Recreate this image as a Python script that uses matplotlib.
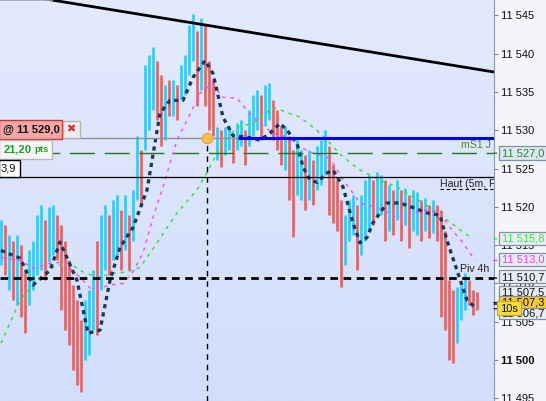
import matplotlib.pyplot as plt
import numpy as np
from matplotlib.patches import Rectangle

plt.rcParams['lines.scale_dashes'] = False
plt.rcParams['font.family'] = ['Liberation Sans', 'DejaVu Sans']

# price bars: high / low per bar, u = up (cyan), d = down (red)
highs = [11518.3, 11517.6, 11516.3, 11515.6, 11516.3, 11515.0, 11511.7, 11514.3, 11515.6, 11518.9,
         11520.2, 11518.3, 11520.0, 11520.2, 11518.9, 11517.6, 11515.6, 11513.0, 11509.8, 11507.8,
         11505.2, 11507.8, 11509.1, 11511.7, 11515.6, 11518.9, 11520.2, 11518.9, 11520.9, 11521.5,
         11519.6, 11521.5, 11518.9, 11522.2, 11529.3, 11527.4, 11538.5, 11539.8, 11540.8, 11539.1,
         11537.2, 11535.9, 11536.5, 11536.5, 11535.9, 11538.5, 11539.8, 11543.7, 11545.2, 11543.0,
         11544.7, 11543.7, 11539.1, 11536.5, 11530.4, 11530.0, 11530.4, 11530.6, 11529.3, 11530.9,
         11531.3, 11530.0, 11532.6, 11534.6, 11535.2, 11534.6, 11535.9, 11536.1, 11533.9, 11532.6,
         11530.6, 11530.6, 11529.3, 11527.4, 11528.7, 11527.4, 11526.7, 11527.4, 11526.1, 11528.0,
         11528.7, 11530.0, 11528.0, 11525.4, 11523.5, 11520.9, 11518.9, 11520.9, 11521.5, 11520.2,
         11521.5, 11523.5, 11524.1, 11523.5, 11524.6, 11524.1, 11523.5, 11522.8, 11522.2, 11523.5,
         11522.2, 11522.4, 11521.5, 11522.2, 11521.9, 11520.9, 11521.1, 11520.2, 11520.9, 11520.2,
         11519.6, 11516.9, 11510.4, 11509.1, 11509.5, 11509.8, 11511.3, 11510.4, 11509.1, 11508.9]
lows = [11512.4, 11511.1, 11509.1, 11507.8, 11507.2, 11505.6, 11503.5, 11507.2, 11509.1, 11511.1,
        11511.7, 11510.4, 11512.8, 11513.7, 11513.0, 11506.5, 11503.9, 11502.0, 11498.7, 11496.7,
        11495.8, 11500.0, 11500.7, 11503.9, 11503.3, 11509.1, 11511.7, 11511.1, 11513.0, 11513.7,
        11511.7, 11514.3, 11511.7, 11515.6, 11520.9, 11520.2, 11527.4, 11530.0, 11532.6, 11531.3,
        11528.0, 11528.7, 11531.9, 11531.9, 11531.3, 11533.9, 11534.6, 11537.2, 11539.1, 11533.2,
        11535.2, 11533.2, 11530.0, 11529.3, 11526.1, 11525.2, 11526.7, 11527.4, 11525.7, 11527.4,
        11528.0, 11525.4, 11528.0, 11529.3, 11530.0, 11528.7, 11530.6, 11531.3, 11528.7, 11527.4,
        11525.4, 11524.8, 11520.9, 11516.0, 11521.5, 11520.9, 11519.6, 11520.9, 11520.2, 11522.2,
        11522.8, 11524.1, 11518.9, 11517.9, 11516.9, 11509.5, 11512.4, 11515.6, 11516.3, 11511.7,
        11513.7, 11515.6, 11516.9, 11517.6, 11518.9, 11518.9, 11515.6, 11516.9, 11516.3, 11518.3,
        11515.6, 11517.6, 11514.6, 11516.9, 11516.3, 11515.6, 11516.9, 11515.9, 11516.6, 11515.6,
        11505.6, 11503.9, 11500.0, 11499.6, 11502.2, 11505.2, 11506.5, 11507.2, 11505.9, 11506.5]
dirs = ("udududduuu" "uduudddddd" "duuuduuduu" "duduuduuud" "dududuuuud"
        "uddduduudu" "uduuuduudd" "dudduududu" "uudddduuud" "uuuduududu"
        "duduududud" "dddduuuddd")

# moving averages (bar index, price)
ma_fast_x = [0, 4.75, 8, 12.25, 14.75, 19, 21.75, 24.75, 27.25, 29.75, 33, 36.5, 39.75, 42.25,
             45.5, 48, 51, 53, 55.5, 58, 61.5, 64.75, 67.25, 69.75, 71.5, 74, 75.5, 77.25, 79,
             81.5, 83, 85.5, 88, 89.75, 91.5, 93, 96.5, 99.75, 103, 106.5, 109.75, 111.5, 114,
             116.5, 118.5]
ma_fast_y = [11514.3, 11513.3, 11509.8, 11511.7, 11515.4, 11510.4, 11503.5, 11503.9, 11510.4,
             11514.7, 11517.3, 11522.2, 11532.2, 11533.9, 11533.9, 11536.9, 11539.1, 11537.4,
             11531.7, 11529.3, 11529.1, 11528.7, 11529.6, 11530.9, 11530.0, 11528.3, 11525.2,
             11523.5, 11523.2, 11524.4, 11524.8, 11522.6, 11517.9, 11515.3, 11516.0, 11517.9,
             11520.5, 11520.5, 11519.9, 11519.2, 11518.9, 11515.6, 11511.7, 11507.8, 11506.9]
ma_mid_x = [0, 4.75, 8, 12.25, 15.5, 19.75, 22.25, 24.75, 27.25, 30.5, 33, 35.5, 38, 40.5, 44,
            46.5, 49.75, 52.75, 55.5, 59, 61.5, 64.75, 68, 71.5, 74.75, 78, 81.5, 83, 85.5, 88,
            89.75, 92.25, 95.5, 99, 103, 106.5, 109.75, 112.25, 115.5, 118.5]
ma_mid_y = [11513.4, 11513.0, 11512.0, 11512.6, 11512.8, 11510.8, 11509.4, 11509.4, 11509.8,
            11510.0, 11511.5, 11514.0, 11518.6, 11522.6, 11528.7, 11531.3, 11534.8, 11536.1,
            11534.3, 11534.2, 11532.6, 11530.9, 11529.6, 11529.1, 11527.8, 11527.0, 11526.5,
            11525.7, 11523.5, 11521.8, 11520.5, 11520.2, 11519.6, 11518.6, 11519.2, 11519.6,
            11519.2, 11517.3, 11515.3, 11513.0]
ma_slow_x = [0, 4.75, 9, 13, 16.5, 20.5, 24, 28, 31.5, 34.75, 39, 44, 49, 52.25, 54.75, 59,
             63, 68, 74.75, 79, 81.5, 85.5, 89.75, 94.75, 99, 103, 107.25, 111.5, 114.75, 117.75]
ma_slow_y = [11502.2, 11507.8, 11510.4, 11512.1, 11512.8, 11511.5, 11510.8, 11511.3, 11511.5,
             11512.1, 11515.3, 11519.2, 11522.2, 11525.2, 11527.8, 11530.4, 11530.9, 11533.0,
             11531.7, 11530.0, 11528.7, 11526.5, 11524.8, 11523.5, 11522.6, 11521.3, 11519.9,
             11518.3, 11517.0, 11515.9]

# horizontal levels
order_price = 11529.0
ms1_j = 11527.0
haut_5m = 11523.9
piv_4h = 11510.7
order_bar = 51.5
trend_x = [-0.25, 123.25]
trend_y = [11548.1, 11537.6]

# price scale
y_ticks = [11495, 11500, 11505, 11510, 11515, 11520, 11525, 11530, 11535, 11540, 11545]
tick_labels = ['11 495', '11 500', '11 505', '11 510', '11 515', '11 520', '11 525',
               '11 530', '11 535', '11 540', '11 545']

W, H = 546, 401
fig = plt.figure(figsize=(W / 100, H / 100), dpi=100, facecolor='#f3f5fa')
ax = fig.add_axes([0, 0, 494 / W, 1])
x_lo, x_hi = -0.25, 123.25
y_lo, y_hi = 11494.65, 11547.0
ax.set_xlim(x_lo, x_hi)
ax.set_ylim(y_lo, y_hi)

# background gradient
grad = np.linspace(0, 1, 256).reshape(-1, 1)
top = np.array([227, 234, 252]) / 255
bot = np.array([210, 222, 252]) / 255
img = top + (bot - top) * grad[:, :, None]
ax.imshow(img, extent=[x_lo, x_hi, y_lo, y_hi], aspect='auto', origin='upper', zorder=0)

# bars
idx = np.arange(len(highs))
cols = ['#33c8f8' if d == 'u' else '#e06464' for d in dirs]
ax.vlines(idx, lows, highs, colors=cols, linewidth=1.9, zorder=2)

# moving averages
ax.plot(ma_slow_x, ma_slow_y, color='#33e633', lw=1.1, dashes=(2.5, 3.5), zorder=3)
ax.plot(ma_mid_x, ma_mid_y, color='#ff4dff', lw=1.1, dashes=(2.5, 3.5), zorder=3)
ax.plot(ma_fast_x, ma_fast_y, color='#173a5e', lw=2.4, dashes=(3, 3), zorder=4)

# levels
ax.axhline(haut_5m, color='black', lw=0.9, zorder=5)
ax.axhline(piv_4h, color='black', lw=2.0, dashes=(5.5, 4), zorder=5)
ax.axhline(ms1_j, color='#1f7a1f', lw=1.0, dashes=(18, 7), zorder=5)
ax.hlines(order_price, x_lo, 59.25, color='#909090', lw=1.0, zorder=5)
ax.hlines(order_price, 59.25, x_hi, color='#0000f0', lw=2.2, zorder=5)
ax.vlines(order_bar, y_lo, order_price, color='black', lw=1.0, linestyles=(0, (4, 3.5)), zorder=5)
ax.plot(trend_x, trend_y, color='black', lw=2.0, zorder=6, solid_capstyle='butt')
ax.hlines(y_hi - 0.05, x_lo, 13, color='#9aa4b0', lw=1.2, zorder=6)
ax.plot([order_bar], [order_price], 'o', ms=7.5, mfc='#f8c050', mec='#e8a848', zorder=7)

# in-chart labels
ax.text(115, ms1_j + 0.4, 'mS1 J', color='#4a8a12', fontsize=7.6, va='bottom', zorder=8)
ax.text(109.8, haut_5m - 0.3, 'Haut (5m, P', color='#202020', fontsize=7.6, va='top', zorder=8,
        clip_on=True)
ax.hlines(haut_5m - 1.6, 109.8, 123, color='black', lw=0.8, linestyles=(0, (2.5, 2)), zorder=8)
ax.text(114.8, piv_4h + 0.5, 'Piv 4h', color='#202020', fontsize=7.6, va='bottom', zorder=8)


def box(x0, y0, x1, y1, fc, ec, z=20, lw=1.0):
    fig.patches.append(Rectangle((x0 / W, 1 - y1 / H), (x1 - x0) / W, (y1 - y0) / H,
                                 transform=fig.transFigure, fc=fc, ec=ec, lw=lw, zorder=z))


def label(x, y, s, z=21, **kw):
    fig.text(x / W, 1 - y / H, s, va='center', ha='left', zorder=z, **kw)


# order tag on the left
box(-1, 120, 62, 139, '#f5a6a6', '#d03434')
label(3, 129.5, '@ 11 529,0', fontsize=8, fontweight='bold', color='#111111')
box(63, 121, 80, 137.5, '#ececec', '#b4b4b4')
label(66.5, 129.5, '\u2716', fontsize=8, color='#d83030', family='DejaVu Sans')
box(-1, 140, 52, 159, '#f6f6f6', '#b8b8b8')
label(4, 149.5, '21,20', fontsize=8, fontweight='bold', color='#22a022')
label(34, 150, 'pts', fontsize=6.8, fontweight='bold', color='#22a022')
box(-1, 160, 20, 177, 'white', 'black')
label(1, 168.5, '3,9', fontsize=8, color='#111111')

# price scale
ax.yaxis.tick_right()
ax.set_yticks(y_ticks)
ax.set_yticklabels(tick_labels)
ax.tick_params(axis='y', length=3, width=0.8, color='#7888a0', pad=2, labelsize=8,
               labelcolor='#101010')
for lab in ax.get_yticklabels():
    if lab.get_text() == '11 500':
        lab.set_fontweight('bold')
ax.set_xticks([])
for s in ['top', 'left', 'bottom']:
    ax.spines[s].set_visible(False)
ax.spines['right'].set_color('#8898b0')

# value tags on the price scale (connector level, text, text colour, fill, connector colour, box top/bottom px)
tags = [(11527.0, '11 527,0', '#208a20', '#dce8ee', '#1f7a1f', 146, 160),
        (11515.8, '11 515,8', '#33ee33', '#e8edf5', '#33ee33', 232, 245),
        (11513.0, '11 513,0', '#ff33ff', '#e8edf5', '#ff33ff', 253, 266),
        (11510.7, '11 510,7', '#101010', '#e8edf5', '#101010', 270, 283),
        (11507.5, '11 507,5', '#101010', '#e8edf5', '#101010', 286, 298),
        (11506.7, '11 506,7', '#101010', '#e8edf5', '#1030a0', 306, 319),
        (11507.3, '11 507,3', '#101010', '#f8cc30', '#101010', 296, 308)]
tb = ax.get_yaxis_transform()
for k, (val, txt, tc, fc, lc, y0, y1) in enumerate(tags):
    ax.annotate('', xy=(1.0, val), xycoords=tb, xytext=(1.011, val),
                arrowprops=dict(arrowstyle='-', color=lc, lw=1.0), zorder=10,
                annotation_clip=False)
    box(499, y0, 550, y1, fc, '#8090a0', z=22 + 2 * k, lw=0.9)
    label(502, (y0 + y1) / 2 + 0.5, txt, z=23 + 2 * k, fontsize=8, color=tc)
box(497, 301, 521, 315, '#f8dc40', '#c8a820', z=40, lw=0.9)
label(500, 308.5, '10s', z=41, fontsize=8, color='#101010')

fig.savefig('out.png', dpi=100, facecolor=fig.get_facecolor())
